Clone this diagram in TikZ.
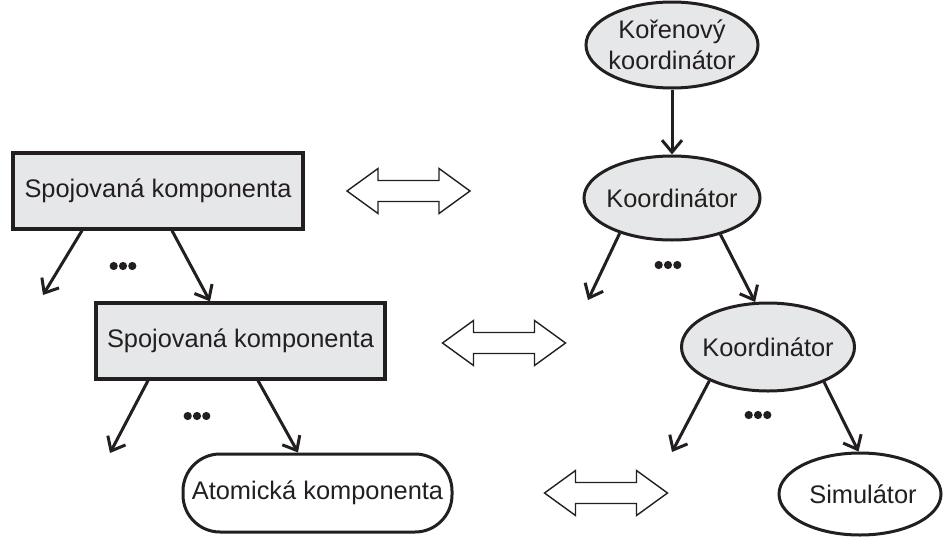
\documentclass[tikz,border=0pt]{standalone}
\usepackage{fontspec}
\setmainfont{Liberation Sans}
\usetikzlibrary{shapes.geometric,arrows.meta}
\definecolor{ink}{RGB}{35,31,32}
\definecolor{panel}{RGB}{230,231,232}
\begin{document}
\begin{tikzpicture}[x=1pt,y=-1pt,
  every node/.style={font=\fontsize{25.4}{31}\selectfont, text=ink, inner sep=0pt},
  box/.style={draw=ink, line width=3.2pt, fill=panel, minimum width=290pt, minimum height=76pt},
  atom/.style={draw=ink, line width=3pt, fill=white, rounded corners=37pt, minimum width=269pt, minimum height=78pt},
  ell/.style={ellipse, draw=ink, line width=3pt, fill=panel},
  lbl/.style={align=center},
  conn/.style={draw=ink, line width=3pt, -{Straight Barb[length=12pt,width=20pt]}},
  dots/.pic={
    \fill[ink] (-9.3,0) circle (4.1) (0,0) circle (4.1) (9.3,0) circle (4.1);
  },
  dblarrow/.pic={
    \draw[ink, line width=1.4pt, line join=miter]
      (-61.5,0) -- (-30.5,-22.5) -- (-30.5,-10.5) -- (30.5,-10.5) -- (30.5,-22.5)
      -- (61.5,0) -- (30.5,22.5) -- (30.5,10.5) -- (-30.5,10.5) -- (-30.5,22.5) -- cycle;
  }]
\useasboundingbox (0,0) rectangle (945,536);

% left hierarchy: coupled components
\node[box] (sk1) at (158,191) {Spojovaná komponenta};
\node[box, minimum width=289pt] (sk2) at (240.5,341) {Spojovaná komponenta};
\node[atom] (ak) at (317.5,493) {Atomická komponenta};

% right hierarchy: coordinators and simulator
\node[ell, minimum width=172pt, minimum height=86pt] (root) at (672,45) {};
\node[lbl] (rootT) at (root.center) {Kořenový\\koordinátor};
\node[ell, minimum width=176pt, minimum height=84pt] (c1) at (672,198) {};
\node[lbl] (c1T) at (c1.center) {Koordinátor};
\node[ell, minimum width=173pt, minimum height=88pt] (c2) at (768,347) {};
\node[lbl] (c2T) at (c2.center) {Koordinátor};
\node[ell, fill=white, minimum width=162pt, minimum height=82pt] (sim) at (860,494) {};
\node[lbl] (simT) at ([xshift=3pt]sim.center) {Simulátor};

% open ends of the branching arrows
\coordinate (f1) at (43,295);
\coordinate (f2) at (110,453);
\coordinate (f3) at (588,300);
\coordinate (f4) at (672,452);

% ellipsis marks between branches
\pic at (123,266) {dots};
\pic at (197,416) {dots};
\pic at (668,265) {dots};
\pic at (758,415) {dots};

% branching arrows
\draw[conn] ([xshift=-76pt]sk1.south) -- (f1);
\draw[conn] ([xshift=14pt]sk1.south) -- ([xshift=-30.5pt]sk2.north);
\draw[conn] ([xshift=-92.5pt]sk2.south) -- (f2);
\draw[conn] ([xshift=17.5pt]sk2.south) -- ([xshift=-19.5pt]ak.north);

\draw[conn] (root.south) -- (c1.north);
\draw[conn] (c1.214.5) -- (f3);
\draw[conn] (c1.323.7) -- (c2.106);
\draw[conn] (c2.210.4) -- (f4);
\draw[conn] (c2.328.3) -- (sim.92);

% correspondence arrows
\pic at (408.5,191) {dblarrow};
\pic at (504,343) {dblarrow};
\pic at (606,493) {dblarrow};
\end{tikzpicture}
\end{document}
